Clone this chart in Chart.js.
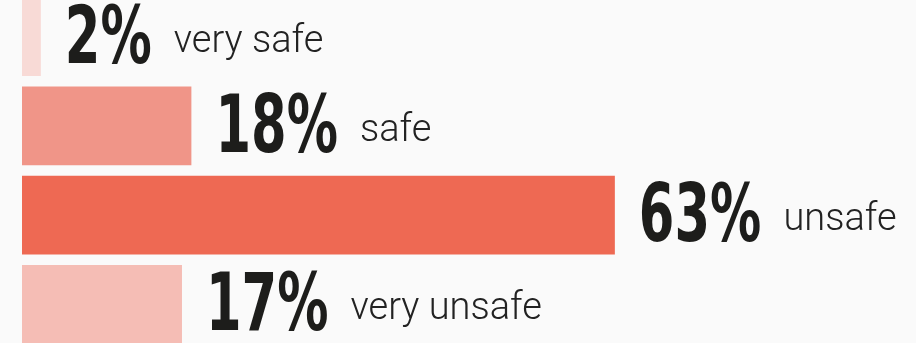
<!DOCTYPE html>
<html>
<head>
<meta charset="utf-8">
<script src="https://cdn.jsdelivr.net/npm/chart.js@4"></script>
<style>
  html, body { margin: 0; padding: 0; background: #fafafa; overflow: hidden; }
  #wrap { position: absolute; left: 0; top: -8px; width: 916px; height: 357px; }
</style>
</head>
<body>
<div id="wrap"><canvas id="myChart"></canvas></div>
<script>
// Chart values
const categories = ["very safe", "safe", "unsafe", "very unsafe"];
const values = [2, 18, 63, 17];
const percentLabels = ["2%", "18%", "63%", "17%"];
const barColors = ["#f8dad6", "#f09588", "#ee6953", "#f5bdb5"];

// Draws the big number and the category text right of each bar
const barLabels = {
	id: "barLabels",
	afterDatasetsDraw(chart) {
		const ctx = chart.ctx;
		const bars = chart.getDatasetMeta(0).data;
		bars.forEach((bar, i) => {
			let x = bar.x + 24;
			ctx.save();
			ctx.fillStyle = "#1d1d1b";
			ctx.textBaseline = "alphabetic";
			ctx.font = "bold 80px 'DejaVu Sans'";
			const w = ctx.measureText(percentLabels[i]).width * 0.64;
			ctx.translate(x, bar.y + 26);
			ctx.scale(0.64, 1);
			ctx.fillText(percentLabels[i], 0, 0);
			ctx.restore();

			ctx.save();
			ctx.fillStyle = "#222222";
			ctx.font = "300 38px Roboto";
			ctx.textBaseline = "alphabetic";
			ctx.fillText(categories[i], x + w + 22, bar.y + 15);
			ctx.restore();
		});
	}
};

var barChart = new Chart("myChart", {
	type: "bar",
	data: {
		labels: categories,
		datasets: [{
			data: values,
			backgroundColor: barColors,
			borderWidth: 0,
			barPercentage: 0.885,
			categoryPercentage: 1
		}]
	},
	options: {
		indexAxis: "y",
		responsive: true,
		maintainAspectRatio: false,
		animation: false,
		layout: { padding: { left: 22, right: 0, top: 0, bottom: 0 } },
		scales: {
			x: { display: false, min: 0, max: 95 },
			y: { display: false }
		},
		plugins: {
			legend: { display: false },
			tooltip: { enabled: false }
		}
	},
	plugins: [barLabels]
});
</script>
</body>
</html>
